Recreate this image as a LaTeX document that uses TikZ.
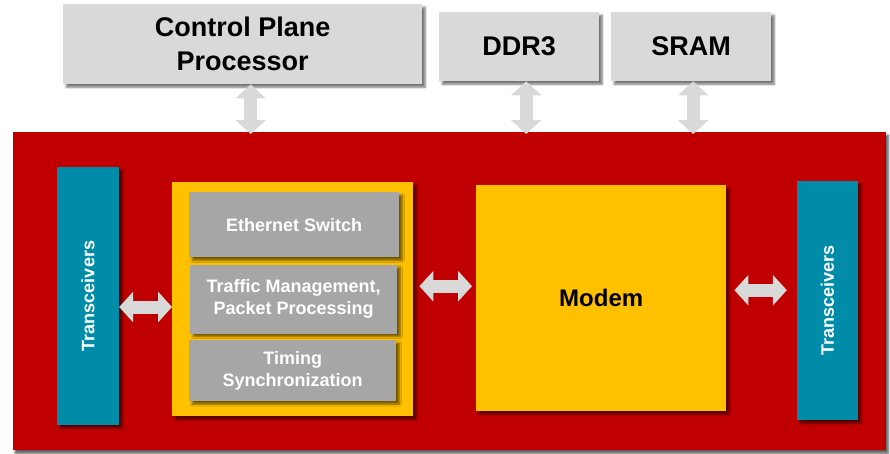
\documentclass[tikz,border=0pt]{standalone}
\usepackage{fontspec}
\setmainfont{Liberation Sans}
\usetikzlibrary{positioning,arrows.meta,shadows.blur}
\definecolor{chipred}{HTML}{C00000}
\definecolor{amber}{HTML}{FFC000}
\definecolor{teal}{HTML}{008CA8}
\definecolor{midgray}{HTML}{A6A6A6}
\definecolor{lightgray}{HTML}{D9D9D9}
\tikzset{%
	blk/.style={rectangle, inner sep=0pt, anchor=north west, align=center, font=\bfseries,
		blur shadow={shadow xshift=3pt, shadow yshift=-3pt, shadow blur steps=6, shadow opacity=55}},
	ext/.style={blk, fill=lightgray, text=black, font=\bfseries\fontsize{27}{34}\selectfont},
	unit/.style={blk, fill=midgray, text=white, font=\bfseries\fontsize{18}{22}\selectfont},
	trx/.style={blk, anchor=center, rotate=90, fill=teal, text=white, font=\bfseries\fontsize{18}{22}\selectfont},
	bus/.style={draw=lightgray, line width=13pt, {Triangle[width=30pt,length=14pt]}-{Triangle[width=30pt,length=14pt]}}
}

\begin{document}
\begin{tikzpicture}[x=1pt, y=1pt]
	\useasboundingbox (0,0) rectangle (890,-453);
	% the chip
	\node[blk, fill=chipred, minimum width=873pt, minimum height=318pt,
		blur shadow={shadow xshift=2pt, shadow yshift=-3pt, shadow opacity=40}] (chip) at (13,-132) {};
	% external devices
	\node[ext, minimum width=359pt, minimum height=80pt] (cpp) at (63,-4) {Control Plane\\Processor};
	\node[ext, minimum width=160pt, minimum height=69pt] (ddr) at (439,-12) {DDR3};
	\node[ext, minimum width=160pt, minimum height=69pt] (sram) at (611,-12) {SRAM};
	% inside
	\node[trx, minimum width=258pt, minimum height=62pt] (trl) at (88,-296) {Transceivers};
	\node[trx, minimum width=239pt, minimum height=61pt] (trr) at (827.5,-300.5) {Transceivers};
	\node[blk, fill=amber, minimum width=241pt, minimum height=234pt] (sw) at (172,-182) {};
	\node[unit, minimum width=210pt, minimum height=65pt] (eth) at (189,-192) {Ethernet Switch};
	\node[unit, minimum width=207pt, minimum height=69pt, below=7pt of eth.south west, anchor=north west, xshift=1pt] (tm) {Traffic Management,\\Packet Processing};
	\node[unit, minimum width=207pt, minimum height=61pt, below=6pt of tm.south west, anchor=north west, xshift=-1pt] (ts) {Timing\\Synchronization};
	\node[blk, fill=amber, minimum width=250pt, minimum height=226pt, font=\bfseries\fontsize{24}{28}\selectfont] (modem) at (476,-185) {Modem};
	% buses
	\draw[bus] ([xshift=8pt]cpp.south) -- ([xshift=8pt,yshift=-2pt]cpp.south |- chip.north);
	\draw[bus] ([xshift=7pt]ddr.south) -- ([xshift=7pt,yshift=-2pt]ddr.south |- chip.north);
	\draw[bus] ([xshift=2pt]sram.south) -- ([xshift=2pt,yshift=-2pt]sram.south |- chip.north);
	\draw[bus] ([yshift=-11pt]trl.south) -- ([yshift=-11pt]trl.south -| sw.west);
	\draw[bus, shorten <=6pt, shorten >=4pt] ([yshift=13pt]sw.east) -- ([yshift=13pt]sw.east -| modem.west);
	\draw[bus, shorten <=8pt, shorten >=10pt] ([yshift=8pt]modem.east) -- ([yshift=8pt]modem.east -| trr.north);
\end{tikzpicture}
\end{document}
